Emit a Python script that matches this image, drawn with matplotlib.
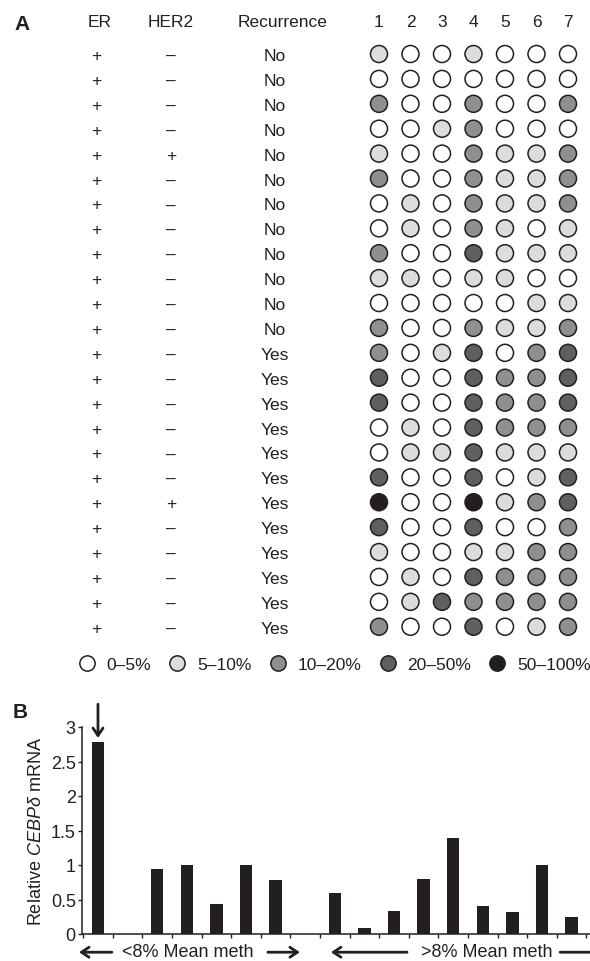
import numpy as np
import matplotlib
matplotlib.use('Agg')
import matplotlib.pyplot as plt
from matplotlib.lines import Line2D
import matplotlib.transforms as mtransforms

plt.rcParams['font.family'] = ['Liberation Sans', 'DejaVu Sans']
plt.rcParams['mathtext.fontset'] = 'custom'
plt.rcParams['mathtext.rm'] = 'Liberation Sans'
plt.rcParams['mathtext.it'] = 'Liberation Sans:italic'
plt.rcParams['mathtext.bf'] = 'Liberation Sans:bold'

INK = '#231f20'

# ---------------- Panel A data ----------------
er_status = ['+'] * 24
her2_status = ['–'] * 4 + ['+'] + ['–'] * 13 + ['+'] + ['–'] * 5
recurrence = ['No'] * 12 + ['Yes'] * 12
cpg_sites = ['1', '2', '3', '4', '5', '6', '7']
meth_levels = ['0–5%', '5–10%', '10–20%', '20–50%', '50–100%']
level_colors = ['#ffffff', '#dcdcdc', '#8f8f8f', '#5f5f5f', INK]
# methylation level code (index into meth_levels) per patient row, CpG sites 1..7
meth_codes = [
    [1, 0, 0, 1, 0, 0, 0],
    [0, 0, 0, 0, 0, 0, 0],
    [2, 0, 0, 2, 0, 0, 2],
    [0, 0, 1, 2, 0, 0, 0],
    [1, 0, 0, 2, 1, 1, 2],
    [2, 0, 0, 2, 1, 1, 2],
    [0, 1, 0, 2, 1, 1, 2],
    [0, 1, 0, 2, 1, 0, 1],
    [2, 0, 0, 3, 1, 1, 1],
    [1, 1, 0, 1, 1, 0, 0],
    [0, 0, 0, 0, 0, 1, 1],
    [2, 0, 0, 2, 1, 1, 2],
    [2, 0, 1, 3, 0, 2, 3],
    [3, 0, 0, 3, 2, 2, 3],
    [3, 0, 0, 3, 2, 2, 3],
    [0, 1, 0, 3, 2, 2, 2],
    [0, 1, 1, 3, 1, 1, 1],
    [3, 0, 0, 3, 0, 1, 3],
    [4, 0, 0, 4, 1, 2, 3],
    [3, 0, 0, 3, 0, 0, 2],
    [1, 0, 0, 1, 1, 2, 2],
    [0, 1, 0, 3, 2, 2, 2],
    [0, 1, 3, 2, 2, 2, 2],
    [2, 0, 0, 3, 0, 1, 2],
]

# ---------------- Panel B data ----------------
mrna_values = [2.78, 0, 0.94, 1.00, 0.44, 1.00, 0.78, 0,
               0.60, 0.08, 0.34, 0.80, 1.39, 0.41, 0.32, 1.00, 0.25]
group_labels = ['<8% Mean meth', '>8% Mean meth']
y_ticks = [0, 0.5, 1, 1.5, 2, 2.5, 3]
y_ticklabels = ['0', '0.5', '1', '1.5', '2', '2.5', '3']

W, H = 590, 962
fig = plt.figure(figsize=(W / 100, H / 100), dpi=100)

# ---------------- Panel A ----------------
axA = fig.add_axes([0, 272 / H, 1, 690 / H])
axA.set_xlim(-11.03, 7.698)
axA.set_ylim(26.50, -1.209)
axA.axis('off')

n_rows = len(meth_codes)
rows = np.arange(1, n_rows + 1)
cols = np.arange(1, len(cpg_sites) + 1)
codes = np.array(meth_codes)
cc, rr = np.meshgrid(cols, rows)
face = [level_colors[k] for k in codes.ravel()]
axA.scatter(cc.ravel(), rr.ravel(), s=150, c=face, edgecolors=INK,
            linewidths=1.1, zorder=3)

fs = 12.5
hdr_y = -0.29
x_er, x_her2, x_rec = -7.98, -5.60, -2.30
axA.text(-7.86, hdr_y, 'ER', ha='center', va='center', fontsize=fs, color=INK)
axA.text(-5.60, hdr_y, 'HER2', ha='center', va='center', fontsize=fs, color=INK)
axA.text(-2.05, hdr_y, 'Recurrence', ha='center', va='center', fontsize=fs, color=INK)
for c, lab in zip(cols, cpg_sites):
    axA.text(c, hdr_y, lab, ha='center', va='center', fontsize=fs, color=INK)
for r, e, h2, rc in zip(rows, er_status, her2_status, recurrence):
    axA.text(x_er, r, e, ha='center', va='center_baseline', fontsize=fs, color=INK)
    axA.text(x_her2, r, h2, ha='center', va='center_baseline', fontsize=fs, color=INK)
    axA.text(x_rec, r, rc, ha='center', va='center_baseline', fontsize=fs, color=INK)

handles = [Line2D([], [], marker='o', linestyle='none', markersize=11,
                  markerfacecolor=col, markeredgecolor=INK, markeredgewidth=1.1)
           for col in level_colors]
fig.legend(handles, meth_levels, loc='center', bbox_to_anchor=(0.567, 1 - 665 / H),
           ncol=5, frameon=False, fontsize=fs, handlelength=1.0,
           handletextpad=0.65, columnspacing=1.0, borderpad=0, labelcolor=INK)

fig.text(22 / W, 1 - 25 / H, 'A', fontsize=15, fontweight='bold', ha='center',
         va='center', color=INK)
fig.text(20 / W, 1 - 713 / H, 'B', fontsize=15, fontweight='bold', ha='center',
         va='center', color=INK)

# ---------------- Panel B ----------------
axB = fig.add_axes([82 / W, 27 / H, 508 / W, 207 / H])
xpos = np.arange(len(mrna_values))
axB.bar(xpos, mrna_values, width=0.42, color=INK)
axB.set_xlim(-0.54, 16.62)
axB.set_ylim(0, 3)
axB.set_yticks(y_ticks)
axB.set_yticklabels(y_ticklabels)
axB.set_xticks(np.arange(-0.5, len(mrna_values), 1.0))
axB.set_xticklabels([])
for s in ['top', 'right']:
    axB.spines[s].set_visible(False)
for s in ['left', 'bottom']:
    axB.spines[s].set_linewidth(1.1)
    axB.spines[s].set_color(INK)
axB.tick_params(axis='y', direction='out', length=3, width=1.0, pad=1.5,
                labelsize=13, colors=INK)
axB.tick_params(axis='x', direction='out', length=3, width=1.0, colors=INK)
axB.set_ylabel(r'Relative $\mathit{CEBP\delta}$ mRNA', fontsize=13, color=INK)
axB.yaxis.set_label_coords(-0.072, 0.5)

trans = mtransforms.blended_transform_factory(axB.transData, axB.transAxes)
ty = -0.083
ay = -0.088
axB.text(3.04, ty, group_labels[0], transform=trans, ha='center', va='center',
         fontsize=13, color=INK, clip_on=False)
axB.text(13.14, ty, group_labels[1], transform=trans, ha='center', va='center',
         fontsize=13, color=INK, clip_on=False)
aprops = dict(arrowstyle='->,head_length=0.45,head_width=0.3', lw=2.0,
              color=INK, mutation_scale=12, shrinkA=0, shrinkB=0)
for tail, head in [(0.47, -0.64), (5.74, 6.82), (10.44, 7.87)]:
    axB.annotate('', xy=(head, ay), xytext=(tail, ay), xycoords=trans,
                 textcoords=trans, arrowprops=aprops, annotation_clip=False)
axB.annotate('', xy=(17.5, ay), xytext=(15.61, ay), xycoords=trans, textcoords=trans,
             arrowprops=dict(arrowstyle='-', lw=2.0, color=INK, shrinkA=0, shrinkB=0),
             annotation_clip=False)
# arrow marking the highest-expression tumour
axB.annotate('', xy=(0, 2.84), xytext=(0, 3.33), xycoords='data', textcoords='data',
             arrowprops=aprops, annotation_clip=False)

fig.savefig('out.png', dpi=100)
